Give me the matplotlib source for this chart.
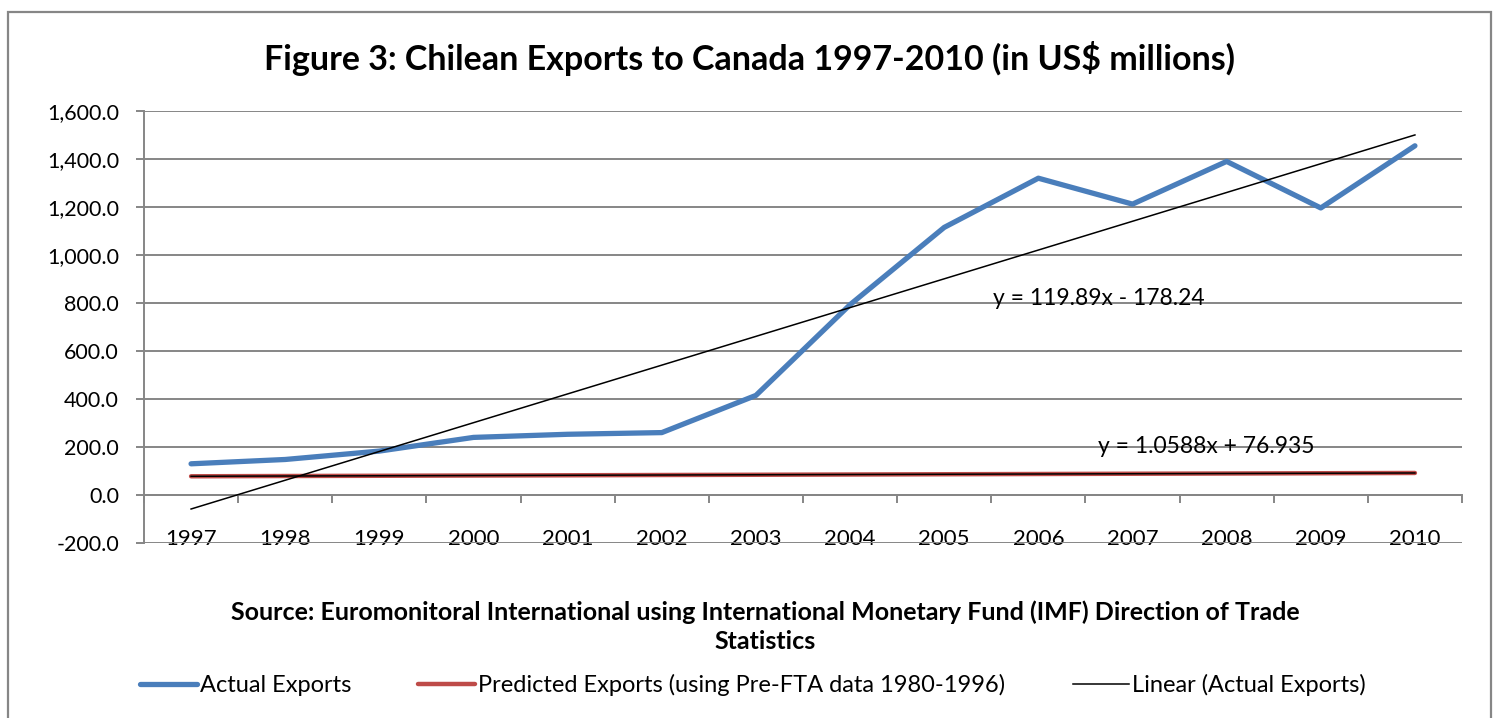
import numpy as np
import matplotlib.pyplot as plt
from matplotlib.lines import Line2D
from matplotlib.patches import Rectangle
from matplotlib.ticker import FuncFormatter, FixedLocator

plt.rcParams['font.family'] = ['Lato', 'DejaVu Sans']

years = ['1997', '1998', '1999', '2000', '2001', '2002', '2003',
         '2004', '2005', '2006', '2007', '2008', '2009', '2010']
actual = [130, 148, 183, 240, 253, 260, 415, 793, 1115, 1320, 1212, 1390, 1196, 1455]
predicted = [78.0, 79.1, 80.1, 81.2, 82.2, 83.3, 84.3, 85.4, 86.5, 87.5, 88.6, 89.6, 90.7, 91.8]

# trendline coefficients (x = 1..14)
actual_fit = (119.89, -178.24)
predicted_fit = (1.0588, 76.935)

blue = '#4A7EBB'
red = '#BE4B48'
grid_gray = '#868686'

fig = plt.figure(figsize=(14.96, 7.18), dpi=100)
ax = fig.add_axes([144 / 1496, 1 - 543 / 718, 1318 / 1496, 432 / 718])

x = np.arange(len(years))
xn = x + 1
trend_a = actual_fit[0] * xn + actual_fit[1]
trend_p = predicted_fit[0] * xn + predicted_fit[1]

ax.plot(x, actual, color=blue, lw=3.8, solid_capstyle='round', solid_joinstyle='round', zorder=3)
ax.plot(x, predicted, color=red, lw=3.2, solid_capstyle='round', zorder=3)
ax.plot(x, trend_p, color='black', lw=1.1, zorder=4)
ax.plot(x, trend_a, color='black', lw=1.1, zorder=4)

ax.text(8.52, 817, 'y = 119.89x - 178.24', fontsize=16.5, va='center', ha='left')
ax.text(9.63, 204, 'y = 1.0588x + 76.935', fontsize=16.5, va='center', ha='left')

ax.set_xlim(-0.5, 13.5)
ax.set_ylim(-200, 1600)
ax.set_yticks(np.arange(-200, 1601, 200))
ax.yaxis.set_major_formatter(FuncFormatter(lambda v, p: f'{v:,.1f}'))
ax.yaxis.grid(True, color=grid_gray, lw=1.4)
ax.set_axisbelow(True)

# category axis crosses at zero, labels sit low
ax.spines['bottom'].set_position(('data', 0))
ax.xaxis.set_major_locator(FixedLocator(np.arange(-0.5, 14, 1)))
ax.xaxis.set_minor_locator(FixedLocator(x))
ax.set_xticklabels([], minor=False)
ax.set_xticklabels(years, minor=True)
ax.tick_params(axis='x', which='major', direction='out', length=5.5, width=1.4, color=grid_gray)
ax.tick_params(axis='x', which='minor', length=0, pad=24.5, labelsize=16)
ax.tick_params(axis='y', direction='out', length=6, width=1.4, color=grid_gray, labelsize=15.5, pad=12)

for side in ['top', 'right']:
    ax.spines[side].set_visible(False)
for side in ['left', 'bottom']:
    ax.spines[side].set_color(grid_gray)
    ax.spines[side].set_linewidth(1.4)

fig.text(750 / 1496, 1 - 58 / 718, 'Figure 3: Chilean Exports to Canada 1997-2010 (in US$ millions)',
         fontsize=24.5, fontweight='bold', ha='center', va='center')
fig.text(765 / 1496, 1 - 627 / 718,
         'Source: Euromonitoral International using International Monetary Fund (IMF) Direction of Trade\nStatistics',
         fontsize=18, fontweight='bold', ha='center', va='center', linespacing=1.3)

handles = [Line2D([], [], color=blue, lw=3.8, solid_capstyle='round'),
           Line2D([], [], color=red, lw=3.2, solid_capstyle='round'),
           Line2D([], [], color='black', lw=1.1)]
labels = ['Actual Exports', 'Predicted Exports (using Pre-FTA data 1980-1996)', 'Linear (Actual Exports)']
fig.legend(handles, labels, loc='center', bbox_to_anchor=(753 / 1496, 1 - 685 / 718), ncol=3,
           frameon=False, fontsize=17, handlelength=2.4, handletextpad=0.13, columnspacing=2.85)

# chart area border
fig.patches.append(Rectangle((8 / 1496, -0.05), 1483 / 1496, 1.05 - 12 / 718, transform=fig.transFigure,
                             fill=False, edgecolor=grid_gray, lw=1.6))

fig.savefig('out.png', dpi=100)
